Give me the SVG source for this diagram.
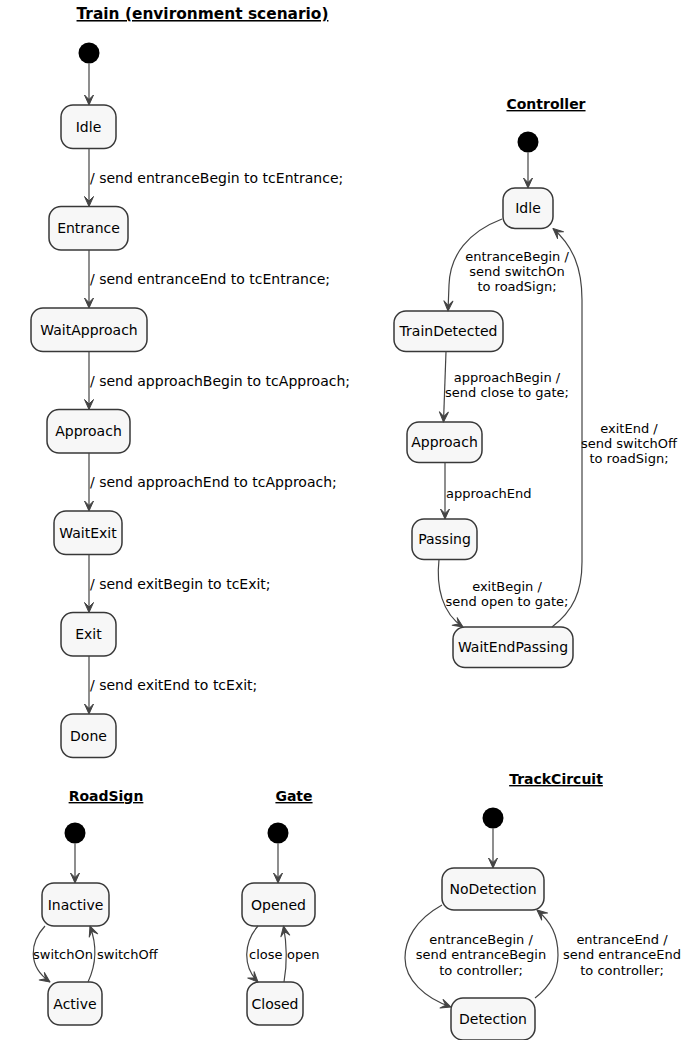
<svg xmlns="http://www.w3.org/2000/svg" width="697" height="1040" viewBox="0 0 697 1040">
<defs>
<style>
.st{fill:#f7f7f7;stroke:#383838;stroke-width:1.5}
.init{fill:#000}
.n{font-family:"DejaVu Sans",sans-serif;font-size:14px;fill:#000;text-anchor:middle}
.t{font-family:"DejaVu Sans",sans-serif;font-size:14px;font-weight:bold;fill:#000;text-anchor:middle;text-decoration:underline}
.l14{font-family:"DejaVu Sans",sans-serif;font-size:14px;fill:#000}
.l{font-family:"DejaVu Sans",sans-serif;font-size:13px;fill:#000}
.lc{font-family:"DejaVu Sans",sans-serif;font-size:13px;fill:#000;text-anchor:middle}
.e{fill:none;stroke:#444;stroke-width:1.2;marker-end:url(#ah)}
</style>
<marker id="ah" markerUnits="userSpaceOnUse" markerWidth="14" markerHeight="14" viewBox="-12 -7 14 14" refX="0" refY="0" orient="auto">
<path d="M0,0 L-10,-4.5 L-5.5,0 L-10,4.5 Z" fill="#444" stroke="#444" stroke-width="1" stroke-linejoin="round"/>
</marker>
</defs>

<!-- Titles -->
<text class="t" x="202.5" y="19" style="font-size:15.4px">Train (environment scenario)</text>
<text class="t" x="546" y="109">Controller</text>
<text class="t" x="106" y="801">RoadSign</text>
<text class="t" x="294" y="801">Gate</text>
<text class="t" x="556" y="784">TrackCircuit</text>

<!-- Train -->
<g id="train-init"><circle class="init" cx="89" cy="53" r="10.5"/></g>
<g id="train-idle"><rect class="st" x="61" y="105" width="55" height="43.5" rx="12"/><text class="n" x="88.5" y="131.8">Idle</text></g>
<g id="train-entrance"><rect class="st" x="49" y="206.5" width="79" height="43.5" rx="12"/><text class="n" x="88.5" y="233.3">Entrance</text></g>
<g id="train-waitapproach"><rect class="st" x="31" y="308" width="116" height="43.5" rx="12"/><text class="n" x="89" y="334.8">WaitApproach</text></g>
<g id="train-approach"><rect class="st" x="47" y="409.5" width="83" height="43.5" rx="12"/><text class="n" x="88.5" y="436.3">Approach</text></g>
<g id="train-waitexit"><rect class="st" x="54" y="511" width="68" height="43.5" rx="12"/><text class="n" x="88" y="537.8">WaitExit</text></g>
<g id="train-exit"><rect class="st" x="61" y="612.5" width="55" height="43.5" rx="12"/><text class="n" x="88.5" y="639.3">Exit</text></g>
<g id="train-done"><rect class="st" x="61" y="714" width="55" height="43.5" rx="12"/><text class="n" x="88.5" y="740.8">Done</text></g>

<!-- Controller -->
<g id="ctrl-init"><circle class="init" cx="528" cy="142" r="10.5"/></g>
<g id="ctrl-idle"><rect class="st" x="503" y="188" width="50" height="40.5" rx="12"/><text class="n" x="528" y="213.3">Idle</text></g>
<g id="ctrl-traindetected"><rect class="st" x="394" y="311" width="109" height="40.5" rx="12"/><text class="n" x="448.5" y="336.3">TrainDetected</text></g>
<g id="ctrl-approach"><rect class="st" x="407" y="422" width="75" height="40.5" rx="12"/><text class="n" x="444.5" y="447.3">Approach</text></g>
<g id="ctrl-passing"><rect class="st" x="412" y="519" width="65" height="40.5" rx="12"/><text class="n" x="444.5" y="544.3">Passing</text></g>
<g id="ctrl-waitendpassing"><rect class="st" x="453" y="627" width="120" height="40.5" rx="12"/><text class="n" x="513" y="652.3">WaitEndPassing</text></g>

<!-- RoadSign -->
<g id="rs-init"><circle class="init" cx="75" cy="833" r="10.5"/></g>
<g id="rs-inactive"><rect class="st" x="42" y="883" width="67" height="43" rx="12"/><text class="n" x="75.5" y="909.5">Inactive</text></g>
<g id="rs-active"><rect class="st" x="48" y="982" width="54" height="43" rx="12"/><text class="n" x="75" y="1008.5">Active</text></g>

<!-- Gate -->
<g id="gate-init"><circle class="init" cx="278" cy="833" r="10.5"/></g>
<g id="gate-opened"><rect class="st" x="242" y="883" width="73" height="43" rx="12"/><text class="n" x="278.5" y="909.5">Opened</text></g>
<g id="gate-closed"><rect class="st" x="247" y="982" width="56" height="43" rx="12"/><text class="n" x="275" y="1008.5">Closed</text></g>

<!-- TrackCircuit -->
<g id="tc-init"><circle class="init" cx="493" cy="818" r="10.5"/></g>
<g id="tc-nodetection"><rect class="st" x="442" y="868" width="102" height="42" rx="12"/><text class="n" x="493" y="894">NoDetection</text></g>
<g id="tc-detection"><rect class="st" x="451" y="998" width="84" height="42" rx="12"/><text class="n" x="493" y="1024">Detection</text></g>

<!-- Connectors -->
<g id="connectors">
<path class="e" d="M89,63.5 L89,105"/>
<path class="e" d="M89,148.5 L89,206.5"/>
<path class="e" d="M89,250 L89,308"/>
<path class="e" d="M89,351.5 L89,409.5"/>
<path class="e" d="M89,453 L89,511"/>
<path class="e" d="M89,554.5 L89,612.5"/>
<path class="e" d="M89,656 L89,714"/>

<path class="e" d="M528,152.5 L528,188"/>
<path class="e" d="M502,219 C468,232 450,255 449,285 L448,311"/>
<path class="e" d="M446,351.5 L443.5,422"/>
<path class="e" d="M445,462.5 L445,519"/>
<path class="e" d="M439,559.5 C436,587 442,613 463,627"/>
<path class="e" d="M552,627 C573,611 582,592 582,562 L582,300 C582,268 573,246 553,228.5"/>

<path class="e" d="M75,843.5 L75,883"/>
<path class="e" d="M45,926 C30,942 27,966 50,982"/>
<path class="e" d="M88,982 C96,965 97,945 90,926"/>

<path class="e" d="M278,843.5 L278,883"/>
<path class="e" d="M258,926 C244,942 242,966 258,982"/>
<path class="e" d="M284,982 C287,965 287,945 283.5,926"/>

<path class="e" d="M493,828.5 L493,868"/>
<path class="e" d="M442,905 C415,920 405,940 405,958 C405,980 425,998 451,1007"/>
<path class="e" d="M535,998 C552,985 558,970 558,955 C558,935 551,922 537,910"/>
</g>

<!-- Labels -->
<g id="labels">
<text class="l14" x="90" y="183">/ send entranceBegin to tcEntrance;</text>
<text class="l14" x="90" y="284">/ send entranceEnd to tcEntrance;</text>
<text class="l14" x="90" y="386">/ send approachBegin to tcApproach;</text>
<text class="l14" x="90" y="487">/ send approachEnd to tcApproach;</text>
<text class="l14" x="90" y="589">/ send exitBegin to tcExit;</text>
<text class="l14" x="90" y="690">/ send exitEnd to tcExit;</text>

<text class="lc" x="517" y="260.5">entranceBegin /</text>
<text class="lc" x="517" y="275.5">send switchOn</text>
<text class="lc" x="517" y="290.5">to roadSign;</text>
<text class="lc" x="507" y="381.5">approachBegin /</text>
<text class="lc" x="507" y="396.5">send close to gate;</text>
<text class="l" x="446" y="497.5">approachEnd</text>
<text class="lc" x="507" y="590.5">exitBegin /</text>
<text class="lc" x="507" y="605.5">send open to gate;</text>
<text class="lc" x="629" y="432.5">exitEnd /</text>
<text class="lc" x="629" y="447.5">send switchOff</text>
<text class="lc" x="629" y="462.5">to roadSign;</text>

<text class="l" x="33" y="958.5">switchOn</text>
<text class="l" x="97" y="958.5">switchOff</text>
<text class="l" x="249" y="958.5">close</text>
<text class="l" x="287" y="958.5">open</text>

<text class="lc" x="481" y="943.5">entranceBegin /</text>
<text class="lc" x="481" y="959">send entranceBegin</text>
<text class="lc" x="481" y="974.5">to controller;</text>
<text class="lc" x="622" y="943.5">entranceEnd /</text>
<text class="lc" x="622" y="959">send entranceEnd</text>
<text class="lc" x="622" y="974.5">to controller;</text>
</g>
</svg>
